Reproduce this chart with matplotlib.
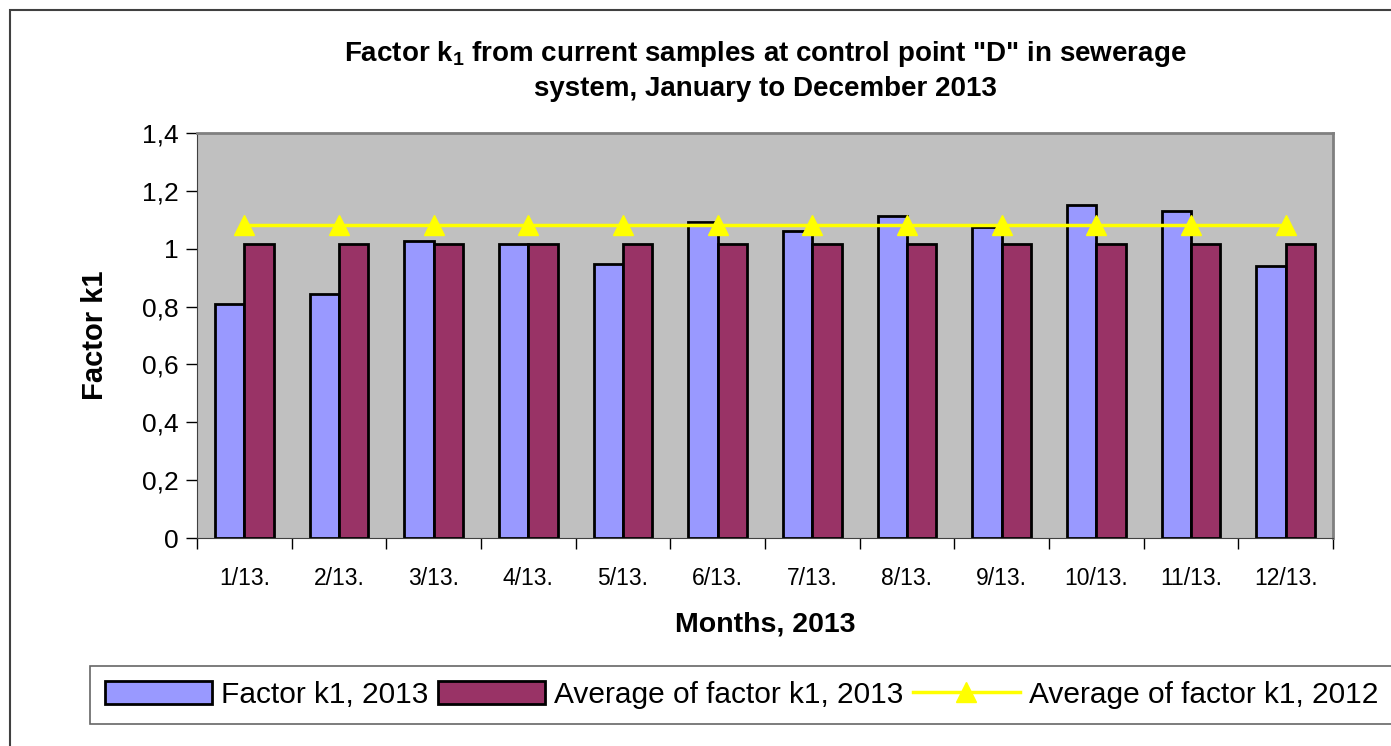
import numpy as np
import matplotlib.pyplot as plt
from matplotlib.patches import Rectangle
from matplotlib.lines import Line2D

plt.rcParams['font.family'] = ['Liberation Sans', 'DejaVu Sans']

months = ["1/13.", "2/13.", "3/13.", "4/13.", "5/13.", "6/13.",
          "7/13.", "8/13.", "9/13.", "10/13.", "11/13.", "12/13."]
k1_2013 = [0.81, 0.845, 1.028, 1.017, 0.948, 1.093,
           1.062, 1.114, 1.076, 1.152, 1.131, 0.941]
avg_2013 = [1.017] * 12
avg_2012 = [1.083] * 12
yticks = [0, 0.2, 0.4, 0.6, 0.8, 1.0, 1.2, 1.4]
ytick_labels = ["0", "0,2", "0,4", "0,6", "0,8", "1", "1,2", "1,4"]

fig = plt.figure(figsize=(13.91, 7.46), dpi=100)
ax = fig.add_axes([0.1416, 0.2788, 0.8167, 0.5429])

x = np.arange(len(months))
w = 0.31
ax.bar(x - w / 2, k1_2013, w, color="#9999FF", edgecolor="black", linewidth=2, zorder=2)
ax.bar(x + w / 2, avg_2013, w, color="#993366", edgecolor="black", linewidth=2, zorder=2)
ax.plot(x, avg_2012, color="#FFFF00", lw=2.5, marker="^", markersize=15, zorder=3)

ax.set_facecolor("#C0C0C0")
ax.set_xlim(-0.5, len(months) - 0.5)
ax.set_ylim(0, 1.4)
for side in ["top", "right"]:
    ax.spines[side].set_color("#808080")
    ax.spines[side].set_linewidth(2)
ax.spines["left"].set_color("#404040")
ax.spines["bottom"].set_color("#404040")

ax.set_yticks(yticks)
ax.set_yticklabels(ytick_labels, fontsize=19)
ax.tick_params(axis="y", length=8, width=1, pad=5)
ax.set_xticks(x)
ax.set_xticklabels(months, fontsize=16.5)
ax.set_xticks(np.arange(-0.5, len(months)), minor=True)
ax.tick_params(axis="x", which="major", length=0, pad=21)
ax.tick_params(axis="x", which="minor", length=8, width=1)

ax.set_ylabel("Factor k1", fontsize=21, fontweight="bold", labelpad=24)
ax.set_xlabel("Months, 2013", fontsize=20.5, fontweight="bold", labelpad=15)
ax.set_title('Factor k$_\\mathregular{1}$ from current samples at control point "D" in sewerage\n'
             'system, January to December 2013',
             fontsize=20, fontweight="bold", pad=27, linespacing=1.35)

# outer chart border
fig.patches.append(Rectangle((10 / 1391, -0.1), 1.2, 1 - 10 / 746 + 0.1,
                             transform=fig.transFigure, fill=False,
                             edgecolor="#404040", lw=1.5))

handles = [Rectangle((0, 0), 1, 1, facecolor="#9999FF", edgecolor="black", lw=2),
           Rectangle((0, 0), 1, 1, facecolor="#993366", edgecolor="black", lw=2),
           Line2D([], [], color="#FFFF00", lw=2.5, marker="^", markersize=15)]
labels = ["Factor k1, 2013", "Average of factor k1, 2013", "Average of factor k1, 2012"]
leg = fig.legend(handles, labels, loc="upper left", ncol=3, fontsize=21.5,
                 bbox_to_anchor=(90 / 1391, 1 - 666 / 746), borderaxespad=0,
                 frameon=True, fancybox=False, handlelength=3.6, handleheight=0.8,
                 handletextpad=0.3, columnspacing=0.3, borderpad=0.5)
leg.get_frame().set_edgecolor("#404040")
leg.get_frame().set_linewidth(1.2)

fig.savefig("out.png", dpi=100)
